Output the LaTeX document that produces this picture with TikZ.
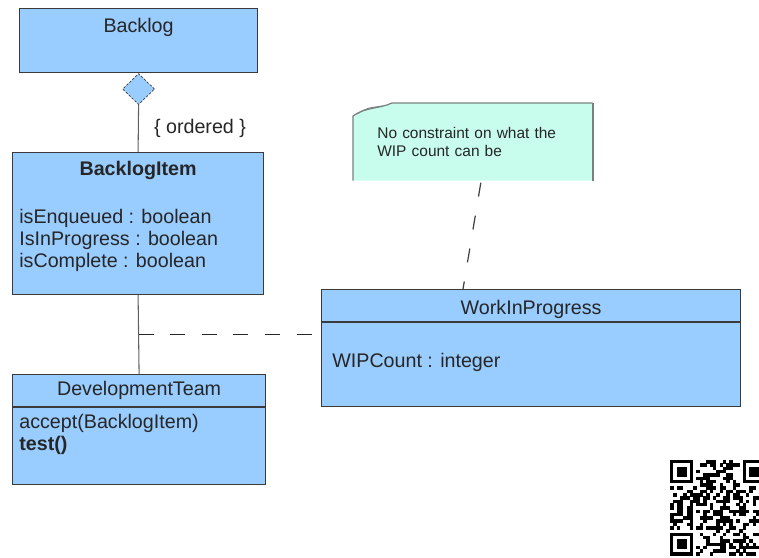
\documentclass[tikz,border=0pt]{standalone}
\usepackage{fontspec}
\setmainfont{Liberation Sans}
\usetikzlibrary{positioning,calc,shapes.geometric,backgrounds}
\definecolor{classblue}{HTML}{99CCFF}
\definecolor{notegreen}{HTML}{C8FCEC}
\definecolor{umlline}{HTML}{3A3A3A}
\definecolor{notegray}{HTML}{7A8080}

\begin{document}
\begin{tikzpicture}[
  x=0.02cm, y=-0.02cm,
  font=\fontsize{11.2}{13}\selectfont,
  class/.style={draw=umlline, fill=classblue, line width=0.7pt, anchor=north west, inner sep=0pt},
  ctitle/.style={text=black!85, inner sep=0pt},
  attr/.style={anchor=west, text=black!85, inner sep=0pt},
  agg/.style={diamond, draw=umlline, dash pattern=on 1.4pt off 0.9pt, fill=classblue, minimum width=0.64cm, minimum height=0.62cm, inner sep=0pt},
  assocline/.style={draw=umlline!80, line width=0.6pt},
  classlink/.style={draw=black!85, line width=0.8pt, dash pattern=on 8.5pt off 9.5pt},
  notelink/.style={draw=black!75, line width=0.7pt, dash pattern=on 8pt off 11pt},
  notetext/.style={font=\fontsize{8.8}{10.4}\selectfont, text=black!85, align=left, text width=3.82cm, inner xsep=0.48cm, minimum width=4.78cm, minimum height=1.54cm, anchor=north west}
]
\useasboundingbox (0,0) rectangle (759,557);

% Classes
\node[class, minimum width=4.76cm, minimum height=1.28cm] (backlog) at (19,8) {};
\node[ctitle] (backlog-t) at ($(backlog.north)+(0,19)$) {Backlog};

\node[class, minimum width=5.02cm, minimum height=2.84cm] (bitem) at (12,152) {};
\node[ctitle, font=\fontsize{11.2}{13}\selectfont\bfseries] (bitem-t) at ($(bitem.north)+(0,18)$) {BacklogItem};
\foreach \a [count=\i] in {isEnqueued : boolean, IsInProgress : boolean, isComplete : boolean}
  \node[attr] (bitem-a\i) at ($(bitem.north west)+(7,44+22*\i)$) {\a};

\node[class, minimum width=5.06cm, minimum height=2.2cm] (devteam) at (12,374) {};
\node[ctitle] (devteam-t) at ($(devteam.north)+(0,16)$) {DevelopmentTeam};
\draw[umlline, line width=0.6pt] ($(devteam.north west)+(0,33)$) -- ($(devteam.north east)+(0,33)$);
\node[attr] (devteam-m1) at ($(devteam.north west)+(7,49)$) {accept(BacklogItem)};
\node[attr, font=\fontsize{11.2}{13}\selectfont\bfseries] (devteam-m2) at ($(devteam.north west)+(7,71)$) {test()};

\node[class, minimum width=8.38cm, minimum height=2.34cm] (wip) at (321,289) {};
\node[ctitle] (wip-t) at ($(wip.north)+(0,20)$) {WorkInProgress};
\draw[umlline, line width=0.6pt] ($(wip.north west)+(0,33)$) -- ($(wip.north east)+(0,33)$);
\node[attr] (wip-a1) at ($(wip.north west)+(11,73)$) {WIPCount : integer};

% Aggregation Backlog -> BacklogItem
\node[agg, anchor=north] (agg) at (backlog.south) {};
\draw[assocline] (agg.south) -- (bitem.north);
\node[text=black!85] (ordered) at (200,128) {\{ ordered \}};

% Association with association class
\draw[assocline] (bitem.south) -- coordinate (assoc) (devteam.north);
\draw[classlink] (assoc) -- (assoc -| wip.west);

% Note
\node[notetext] (note) at (353,103) {No constraint on what the\\WIP count can be};
\begin{scope}[on background layer]
  \fill[notegreen] (note.south west) -- ($(note.north west)+(0,13)$)
    .. controls ($(note.north west)+(12,4)$) and ($(note.north west)+(26,6)$) .. ($(note.north west)+(39,0)$)
    -- (note.north east) -- (note.south east) -- cycle;
\end{scope}
\draw[notegray, line width=0.7pt] (note.south west) -- ($(note.north west)+(0,13)$)
  .. controls ($(note.north west)+(12,4)$) and ($(note.north west)+(26,6)$) .. ($(note.north west)+(39,0)$)
  -- (note.north east);
\draw[notegray, line width=1.2pt] (note.north east) -- (note.south east);
\draw[notegray, line width=0.5pt] ($(note.north west)+(4,11)$) .. controls ($(note.north west)+(14,5)$) .. ($(note.north west)+(30,3)$);
\coordinate (note-end) at ($(note.south)+(8,2)$);
\coordinate (wip-end) at ($(wip.north west)+(142,0)$);
\draw[notelink] (note-end) -- (wip-end);

% QR code in the corner
\begin{scope}
  \clip (0,0) rectangle (759,557);
  \def\m{3.3}
  \pgfmathsetseed{4711}
  \foreach \i in {0,...,28}{
    \foreach \j in {0,...,28}{
      \pgfmathtruncatemacro{\fz}{((\i<8)&&(\j<8))||((\i>20)&&(\j<8))||((\i<8)&&(\j>20))}
      \pgfmathtruncatemacro{\bit}{rnd<0.5}
      \ifnum\fz=0 \ifnum\bit=1
        \fill[black] (670+\m*\i,460+\m*\j) rectangle ++(\m+0.2,\m+0.2);
      \fi\fi
    }
  }
  \foreach \fx/\fy in {0/0,22/0,0/22}{
    \fill[black] (670+\m*\fx,460+\m*\fy) rectangle ++(7*\m,7*\m);
    \fill[white] (670+\m*\fx+\m,460+\m*\fy+\m) rectangle ++(5*\m,5*\m);
    \fill[black] (670+\m*\fx+2*\m,460+\m*\fy+2*\m) rectangle ++(3*\m,3*\m);
  }
\end{scope}
\end{tikzpicture}
\end{document}
